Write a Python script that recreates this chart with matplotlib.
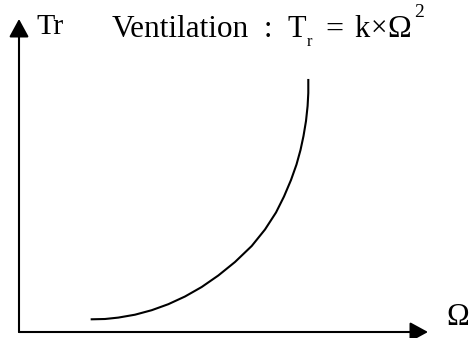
import matplotlib
matplotlib.use('Agg')
import matplotlib.pyplot as plt
from matplotlib.patches import ArrowStyle

plt.rcParams['font.family'] = ['Liberation Serif', 'DejaVu Serif']

# curve (speed vs torque, arbitrary units)
omega = [72.7, 86.0, 99.3, 116.0, 132.7, 149.3, 166.0, 182.7, 199.3, 216.0,
         232.7, 246.0, 257.0, 265.0, 272.0, 277.5, 281.5, 284.5, 287.0,
         288.6, 289.3, 289.3]
torque = [12.7, 13.0, 14.4, 17.3, 21.8, 27.8, 35.5, 45.0, 56.5, 70.0,
          86.0, 102.5, 119.5, 135.5, 152.0, 167.5, 182.0, 196.0, 211.0,
          226.0, 239.0, 252.0]

x_label = '\u03a9'
y_label = 'Tr'
title = 'Ventilation'
# formula pieces: : T_r = k x Omega^2
formula = [':', 'T', '=', 'k', '\u00d7', '\u03a9']
formula_sizes = [22, 22, 23, 22, 21, 23]

W, H = 475, 338
fig = plt.figure(figsize=(W / 100, H / 100), dpi=100)
ax = fig.add_axes([0, 0, 1, 1])
# origin of the drawn axes sits at pixel (19, 332)
ax.set_xlim(-19, W - 19)
ax.set_ylim(-(H - 332), 332)
ax.axis('off')

ax.plot(omega, torque, color='black', lw=1.5, solid_joinstyle='round')

style = ArrowStyle('-|>', head_length=1.1, head_width=0.6)
for tip in [(0, 313), (409, 0)]:
    ax.annotate('', xy=tip, xytext=(0, 0),
                arrowprops=dict(arrowstyle=style, mutation_scale=10, lw=1.5,
                                color='black', shrinkA=0, shrinkB=0))


def put(x, y, s, size):
    fig.text(x / W, 1 - y / H, s, fontsize=size, va='baseline', ha='left')


put(36, 33.5, y_label, 21.5)
put(112, 37.3, title, 22.5)
for x, s, fs in zip([264, 288, 325, 354, 371, 387], formula, formula_sizes):
    put(x, 37.3, s, fs)
put(307, 46.5, 'r', 12)
put(414, 17, '2', 14)
put(446, 325, x_label, 22)

fig.savefig('out.png', dpi=100)
